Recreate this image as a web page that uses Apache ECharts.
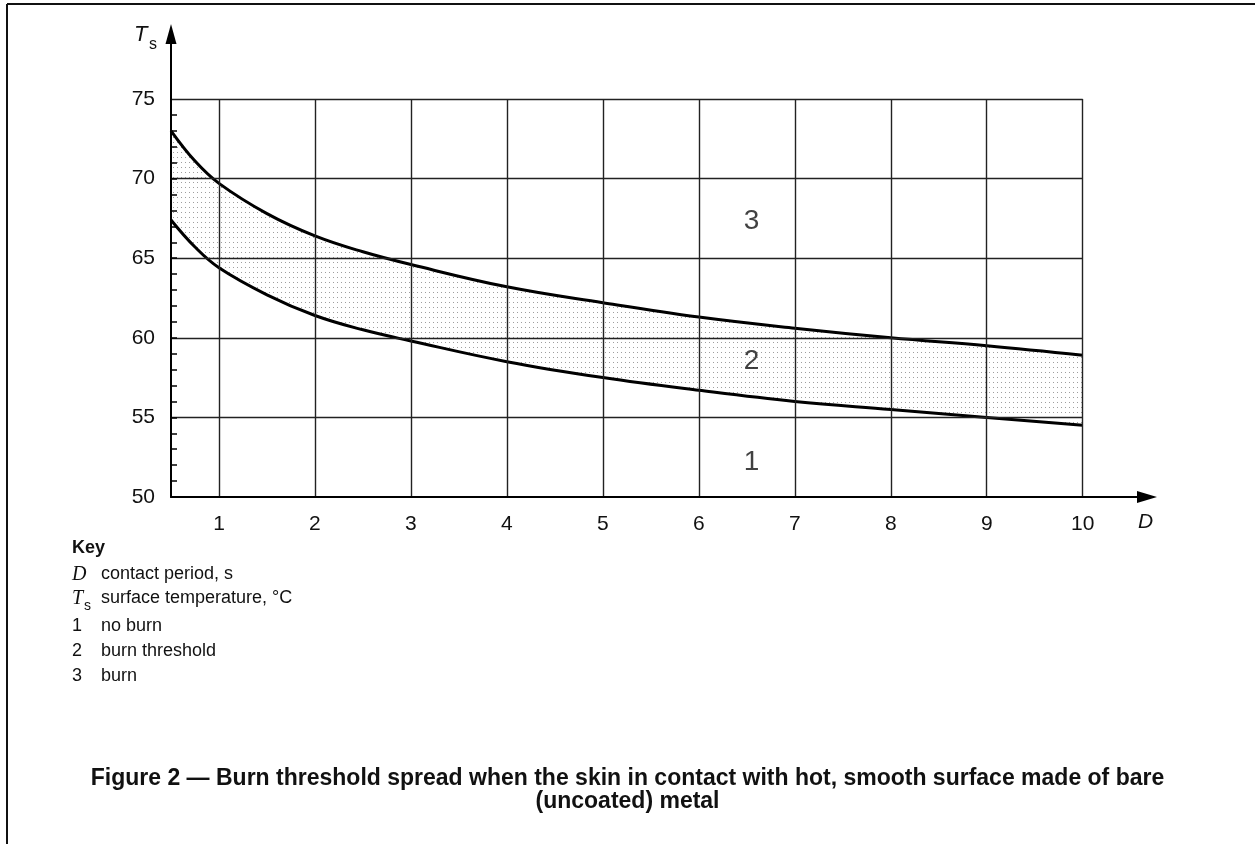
<!DOCTYPE html>
<html>
<head>
<meta charset="utf-8">
<script src="https://cdn.jsdelivr.net/npm/echarts@6/dist/echarts.min.js"></script>
<style>
html, body {margin:0; padding:0; background:#fff;}
#chart {width:1255px; height:844px;}
</style>
</head>
<body>
<div id="chart"></div>
<script>
// values
const contact_period = [0.5, 0.75, 1, 1.5, 2, 2.5, 3, 4, 5, 6, 7, 8, 9, 10];
const burn_curve     = [73.0, 71.1, 69.7, 67.8, 66.4, 65.4, 64.6, 63.2, 62.2, 61.3, 60.6, 60.0, 59.5, 58.9];
const no_burn_curve  = [67.4, 65.7, 64.4, 62.7, 61.4, 60.5, 59.8, 58.5, 57.5, 56.7, 56.0, 55.5, 55.0, 54.5];

const x_ticks = [1, 2, 3, 4, 5, 6, 7, 8, 9, 10];
const y_ticks = [50, 55, 60, 65, 70, 75];
const y_minor = [51, 52, 53, 54, 55, 56, 57, 58, 59, 60, 61, 62, 63, 64, 65, 66, 67, 68, 69, 70, 71, 72, 73, 74];

const zone_names = ['1', '2', '3'];
const zone_x     = [6.55, 6.55, 6.55];
const zone_y     = [52.2, 58.5, 67.3];

const key_items = [
    ['1', 'no burn'],
    ['2', 'burn threshold'],
    ['3', 'burn']
];

// light dotted fill for the burn threshold band
function dotPattern() {
    const c = document.createElement('canvas');
    c.width = 4;
    c.height = 5;
    const ctx = c.getContext('2d');
    ctx.fillStyle = '#fff';
    ctx.fillRect(0, 0, 4, 5);
    ctx.fillStyle = 'rgba(0,0,0,0.38)';
    ctx.fillRect(1, 2, 1, 1);
    return c;
}

function init() {
    const chart = echarts.init(document.getElementById('chart'));

    const upper = contact_period.map((d, i) => [d, burn_curve[i]]);
    const lower = contact_period.map((d, i) => [d, no_burn_curve[i]]);

    // grid drawn as mark lines so the axes can run on past it to the arrows
    const x_max = x_ticks[x_ticks.length - 1];
    const y_top = y_ticks[y_ticks.length - 1];
    const grid_lines = [];
    for (const x of x_ticks) {
        grid_lines.push([{coord: [x, y_ticks[0]]}, {coord: [x, y_top]}]);
    }
    for (const y of y_ticks.slice(1)) {
        grid_lines.push([{coord: [contact_period[0], y]}, {coord: [x_max, y]}]);
    }

    const zones = zone_names.map((n, i) => ({value: [zone_x[i], zone_y[i]], name: n}));

    const font = 'Liberation Sans, Arial, sans-serif';
    const serif = 'Liberation Serif, Times New Roman, serif';
    const keyFont = '18px ' + font;
    const keyText = [];
    key_items.forEach((k, i) => {
        keyText.push({type: 'text', left: 72, top: 617 + i * 25, style: {text: k[0], font: keyFont, fill: '#111'}});
        keyText.push({type: 'text', left: 101, top: 617 + i * 25, style: {text: k[1], font: keyFont, fill: '#111'}});
    });

    const option = {
        animation: false,
        backgroundColor: '#fff',
        grid: {left: 171, right: 108, top: 34, bottom: 347, containLabel: false},
        xAxis: {
            type: 'value', min: 0.5, max: 10.67, z: 10,
            axisLine: {show: true, symbol: ['none', 'triangle'], symbolSize: [12, 20],
                lineStyle: {color: '#000', width: 2}},
            axisTick: {show: false},
            splitLine: {show: false},
            axisLabel: {customValues: x_ticks, color: '#111', fontSize: 21, fontFamily: font, margin: 17}
        },
        yAxis: {
            type: 'value', min: 50, max: 79.08, z: 10,
            axisLine: {show: true, symbol: ['none', 'triangle'], symbolSize: [11, 20],
                lineStyle: {color: '#000', width: 2}},
            axisTick: {show: true, inside: true, length: 6, customValues: y_minor, lineStyle: {color: '#000', width: 1.5}},
            splitLine: {show: false},
            axisLabel: {customValues: y_ticks, color: '#111', fontSize: 21, fontFamily: font, margin: 16}
        },
        series: [
            {
                name: 'burn limit', type: 'line', smooth: 0.4, showSymbol: false,
                data: upper,
                lineStyle: {color: '#000', width: 3},
                areaStyle: {color: {image: dotPattern(), repeat: 'repeat'}, opacity: 1, origin: 'start'},
                z: 2
            },
            {
                name: 'no burn limit', type: 'line', smooth: 0.4, showSymbol: false,
                data: lower,
                lineStyle: {color: '#000', width: 3},
                areaStyle: {color: '#fff', opacity: 1, origin: 'start'},
                z: 3
            },
            {
                name: 'zones', type: 'scatter', symbolSize: 0,
                data: zones,
                label: {show: true, position: 'inside', formatter: '{b}', fontSize: 28, color: '#111', fontFamily: font},
                markLine: {
                    silent: true, symbol: 'none', label: {show: false},
                    lineStyle: {color: '#222', width: 1.4, type: 'solid'},
                    data: grid_lines
                },
                z: 4
            }
        ],
        graphic: [
            {type: 'line', shape: {x1: 7, y1: 4, x2: 1255, y2: 4}, style: {stroke: '#111', lineWidth: 2}},
            {type: 'line', shape: {x1: 7, y1: 4, x2: 7, y2: 844}, style: {stroke: '#111', lineWidth: 2}},
            {type: 'text', left: 134, top: 24, style: {text: 'T', font: 'italic 22px ' + font, fill: '#111'}},
            {type: 'text', left: 149, top: 37, style: {text: 's', font: '16px ' + font, fill: '#111'}},
            {type: 'text', left: 1138, top: 512, style: {text: 'D', font: 'italic 21px ' + font, fill: '#111'}},
            {type: 'text', left: 72, top: 539, style: {text: 'Key', font: 'bold 18px ' + font, fill: '#111'}},
            {type: 'text', left: 72, top: 565, style: {text: 'D', font: 'italic 20px ' + serif, fill: '#111'}},
            {type: 'text', left: 101, top: 565, style: {text: 'contact period, s', font: keyFont, fill: '#111'}},
            {type: 'text', left: 72, top: 589, style: {text: 'T', font: 'italic 20px ' + serif, fill: '#111'}},
            {type: 'text', left: 84, top: 599, style: {text: 's', font: '14px ' + font, fill: '#111'}},
            {type: 'text', left: 101, top: 589, style: {text: 'surface temperature, °C', font: keyFont, fill: '#111'}},
            ...keyText,
            {type: 'text', left: 'center', top: 767, style: {text: 'Figure 2 \u2014 Burn threshold spread when the skin in contact with hot, smooth surface made of bare', font: 'bold 23px ' + font, fill: '#111'}},
            {type: 'text', left: 'center', top: 790, style: {text: '(uncoated) metal', font: 'bold 23px ' + font, fill: '#111'}}
        ]
    };

    chart.setOption(option);
}

init();
</script>
</body>
</html>
